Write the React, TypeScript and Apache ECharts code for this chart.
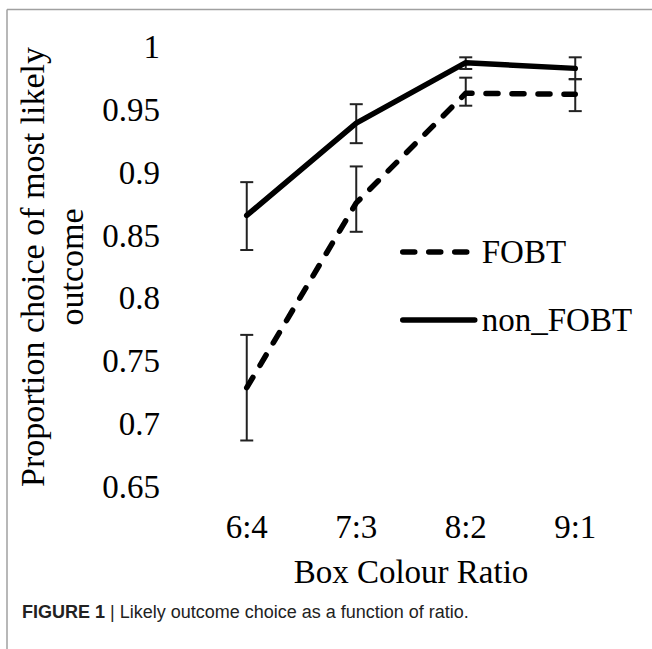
import React, { useEffect, useRef } from "react";
import * as echarts from "echarts";

const categories = ["6:4", "7:3", "8:2", "9:1"];
const fobt = [0.729, 0.876, 0.9632, 0.9624];
const fobtLow = [0.687, 0.853, 0.9533, 0.949];
const fobtHigh = [0.771, 0.905, 0.9756, 0.9745];
const nonFobt = [0.866, 0.9395, 0.9875, 0.983];
const nonFobtLow = [0.8385, 0.9235, 0.9825, 0.9743];
const nonFobtHigh = [0.8925, 0.9545, 0.9918, 0.9918];

const SERIF = "'Liberation Serif', 'Times New Roman', serif";
const SANS = "'Liberation Sans Narrow', 'Liberation Sans', Arial, sans-serif";

function errorSeries(name: string, low: number[], high: number[]) {
  return {
    type: "custom",
    name,
    silent: true,
    z: 1,
    data: categories.map((_, i) => [i, low[i], high[i]]),
    renderItem: (_params: any, api: any) => {
      const x = api.value(0);
      const lo = api.coord([x, api.value(1)]);
      const hi = api.coord([x, api.value(2)]);
      const w = 6.5;
      const style = { stroke: "#222", lineWidth: 2 };
      return {
        type: "group",
        children: [
          { type: "line", shape: { x1: lo[0], y1: lo[1], x2: hi[0], y2: hi[1] }, style },
          { type: "line", shape: { x1: lo[0] - w, y1: lo[1], x2: lo[0] + w, y2: lo[1] }, style },
          { type: "line", shape: { x1: hi[0] - w, y1: hi[1], x2: hi[0] + w, y2: hi[1] }, style },
        ],
      };
    },
  };
}

export default function App() {
  const ref = useRef<HTMLDivElement>(null);
  useEffect(() => {
    if (!ref.current) return;
    const chart = echarts.init(ref.current, null, { renderer: "svg" });
    chart.setOption({
      animation: false,
      backgroundColor: "#ffffff",
      grid: { left: 192, right: 22, top: 47, bottom: 162 },
      legend: {
        orient: "vertical",
        left: 400,
        top: 235,
        itemWidth: 72,
        itemHeight: 14,
        itemGap: 34,
        padding: 0,
        data: ["FOBT", "non_FOBT"],
        itemStyle: { opacity: 0 },
        lineStyle: { width: 5.5, cap: "round", join: "round" },
        textStyle: {
          fontFamily: SERIF,
          fontSize: 33,
          color: "#000",
          lineHeight: 34,
          padding: [0, 0, 0, 2],
        },
      },
      xAxis: {
        type: "category",
        data: categories,
        boundaryGap: true,
        axisLine: { show: false },
        axisTick: { show: false },
        axisLabel: { fontFamily: SERIF, fontSize: 33, color: "#000", margin: 23 },
        name: "Box Colour Ratio",
        nameLocation: "middle",
        nameGap: 68,
        nameTextStyle: { fontFamily: SERIF, fontSize: 33, color: "#000" },
      },
      yAxis: {
        type: "value",
        min: 0.65,
        max: 1,
        interval: 0.05,
        axisLine: { show: false },
        axisTick: { show: false },
        splitLine: { show: false },
        axisLabel: {
          fontFamily: SERIF,
          fontSize: 33,
          color: "#000",
          margin: 32,
          formatter: (v: number) => String(Math.round(v * 100) / 100),
        },
        name: "Proportion choice of most likely\noutcome",
        nameLocation: "middle",
        nameRotate: 90,
        nameGap: 92,
        nameTextStyle: { fontFamily: SERIF, fontSize: 34, color: "#000", lineHeight: 39 },
      },
      series: [
        errorSeries("FOBT_err", fobtLow, fobtHigh),
        errorSeries("non_FOBT_err", nonFobtLow, nonFobtHigh),
        {
          type: "line",
          name: "FOBT",
          data: fobt,
          symbol: "none",
          z: 3,
          itemStyle: { color: "#000" },
          lineStyle: { color: "#000", width: 5.5, type: [12, 14], cap: "round", join: "round" },
        },
        {
          type: "line",
          name: "non_FOBT",
          data: nonFobt,
          symbol: "none",
          z: 3,
          itemStyle: { color: "#000" },
          lineStyle: { color: "#000", width: 5.5, type: "solid", cap: "round", join: "round" },
        },
      ],
      graphic: [
        { type: "line", shape: { x1: 7, y1: 9.5, x2: 652, y2: 9.5 }, style: { stroke: "#a0a0a0", lineWidth: 1.5 } },
        { type: "line", shape: { x1: 7, y1: 9.5, x2: 7, y2: 649 }, style: { stroke: "#a0a0a0", lineWidth: 1.5 } },
        {
          type: "text",
          left: 22,
          top: 603,
          style: {
            text: "{b|FIGURE 1} | Likely outcome choice as a function of ratio.",
            fontFamily: SANS,
            fontSize: 18,
            fill: "#222",
            rich: {
              b: { fontWeight: "bold", fontFamily: SANS, fontSize: 18, fill: "#222" },
            },
          },
        },
      ],
    });
    return () => chart.dispose();
  }, []);
  return <div ref={ref} style={{ position: "fixed", left: 0, top: 0, width: 652, height: 649 }} />;
}
